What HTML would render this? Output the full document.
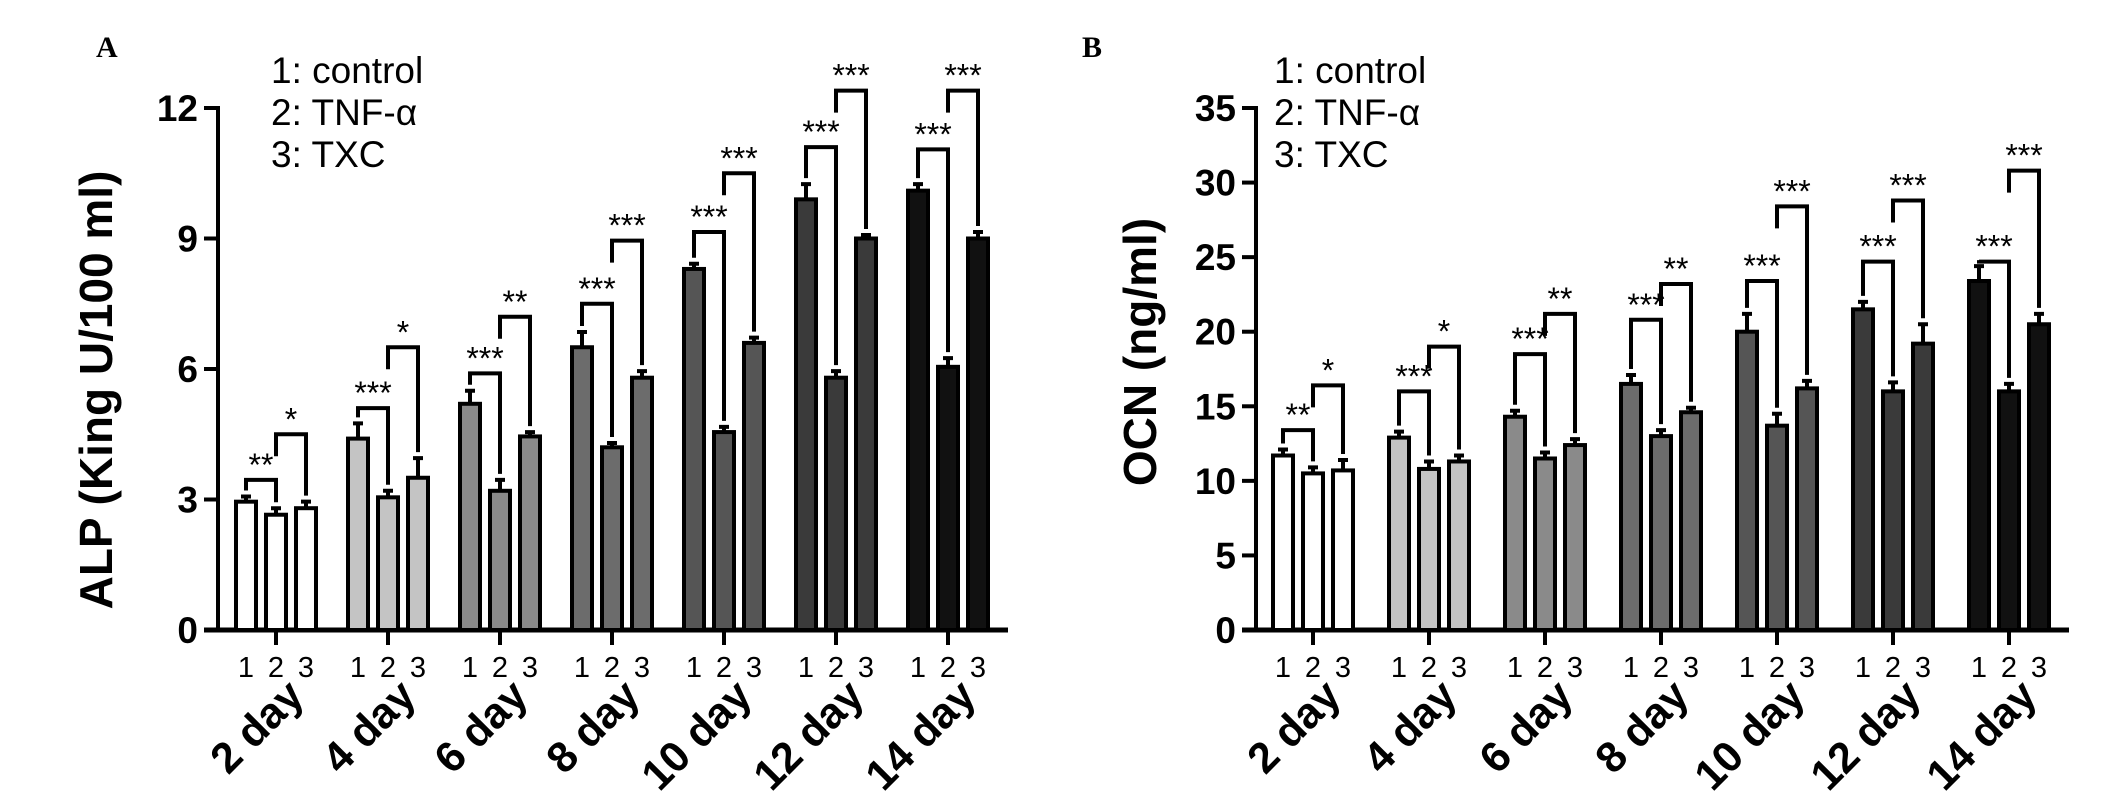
<!DOCTYPE html>
<html><head><meta charset="utf-8"><style>
html,body{margin:0;padding:0;background:#fff;}
svg{display:block;font-family:"Liberation Sans",Arial,sans-serif;}
</style></head><body>
<svg id="chart" width="2126" height="805" viewBox="0 0 2126 805" xmlns="http://www.w3.org/2000/svg"></svg>
<script>
const days = ["2 day","4 day","6 day","8 day","10 day","12 day","14 day"];
const groupFills = ["#ffffff","#c4c4c4","#8a8a8a","#6c6c6c","#555555","#3a3a3a","#111111"];
// Panel A: ALP
const alpControl = [2.95,4.4,5.2,6.5,8.3,9.9,10.1];
const alpControlErr = [0.12,0.35,0.3,0.35,0.12,0.35,0.15];
const alpTNF = [2.65,3.05,3.2,4.2,4.55,5.8,6.05];
const alpTNFErr = [0.15,0.15,0.25,0.1,0.12,0.15,0.2];
const alpTXC = [2.8,3.5,4.45,5.8,6.6,9.0,9.0];
const alpTXCErr = [0.15,0.45,0.1,0.15,0.12,0.08,0.15];
const alpBr12 = [3.45,5.1,5.9,7.5,9.15,11.1,11.05];
const alpBr23 = [4.5,6.5,7.2,8.95,10.5,12.4,12.4];
const alpStars12 = ["**","***","***","***","***","***","***"];
const alpStars23 = ["*","*","**","***","***","***","***"];
const alpTicks = [0,3,6,9,12];
// Panel B: OCN
const ocnControl = [11.7,12.9,14.3,16.5,20.0,21.5,23.4];
const ocnControlErr = [0.4,0.4,0.4,0.6,1.2,0.5,1.0];
const ocnTNF = [10.5,10.8,11.5,13.0,13.7,16.0,16.0];
const ocnTNFErr = [0.4,0.5,0.4,0.4,0.8,0.6,0.5];
const ocnTXC = [10.7,11.3,12.4,14.6,16.2,19.2,20.5];
const ocnTXCErr = [0.7,0.4,0.4,0.3,0.5,1.3,0.7];
const ocnBr12 = [13.4,16.0,18.5,20.8,23.4,24.7,24.7];
const ocnBr23 = [16.4,19.0,21.2,23.2,28.4,28.8,30.8];
const ocnStars12 = ["**","***","***","***","***","***","***"];
const ocnStars23 = ["*","*","**","**","***","***","***"];
const ocnTicks = [0,5,10,15,20,25,30,35];

const NS="http://www.w3.org/2000/svg";
const svg=document.getElementById('chart');
function el(tag,attrs,parent){const e=document.createElementNS(NS,tag);for(const k in attrs)e.setAttribute(k,attrs[k]);(parent||svg).appendChild(e);return e;}

function panel(o){
  const g=el('g',{});
  
  
  const x0=o.axisX, y0=630, yTop=108;
  const y=v=>y0-(v/o.max)*(y0-yTop);
  const gx=i=>o.firstGroup+i*o.spacing;
  const pitch=30, bw=20;
  const lbl=el('text',{x:o.letterX,y:57,'font-family':'Liberation Serif, serif','font-weight':'bold','font-size':30},g);lbl.textContent=o.letter;
  
  
  const legend=["1: control","2: TNF-α","3: TXC"];
  legend.forEach((t,i)=>{const e=el('text',{x:o.legendX,y:83+i*42,'font-size':37},g);e.textContent=t;
    
    });
  const yt=el('text',{x:0,y:0,'font-size':o.titleSize,'font-weight':'bold','text-anchor':'middle',transform:`translate(${o.titleX},${o.titleY}) rotate(-90)`},g);yt.textContent=o.title;
  
  
  const ya=el('line',{x1:x0,y1:yTop-2,x2:x0,y2:y0+2,stroke:'#000','stroke-width':4},g);
  
  
  const xa=el('line',{x1:x0-14,y1:y0,x2:gx(6)+60,y2:y0,stroke:'#000','stroke-width':5},g);
  
  
  o.ticks.forEach(t=>{
    const tk=el('line',{x1:x0-14,y1:y(t),x2:x0,y2:y(t),stroke:'#000','stroke-width':4},g);
    
    
    const tl=el('text',{x:x0-20,y:y(t)+13,'font-size':37,'font-weight':'bold','text-anchor':'end'},g);tl.textContent=t;
    
    
  });
  const series=[[o.c,o.ce],[o.t,o.te],[o.x,o.xe]];
  days.forEach((d,i)=>{
    const cx=gx(i);
    const xt=el('line',{x1:cx,y1:y0,x2:cx,y2:y0+15,stroke:'#000','stroke-width':4},g);
    
    
    const tops=[];
    series.forEach((s,j)=>{
      const bx=cx+(j-1)*pitch, v=s[0][i], e=s[1][i];
      const r=el('rect',{x:bx-bw/2,y:y(v),width:bw,height:y0-y(v),fill:groupFills[i],stroke:'#000','stroke-width':4},g);
      
      
      const eb=el('path',{d:`M${bx},${y(v)} V${y(v+e)} M${bx-5},${y(v+e)} H${bx+5}`,stroke:'#000','stroke-width':4,fill:'none'},g);
      
      
      tops.push(y(v+e)-6);
      const n=el('text',{x:bx,y:y0+47,'font-size':29,'text-anchor':'middle'},g);n.textContent=j+1;
      
      
    });
    const b1=y(o.b12[i]), b2=y(o.b23[i]);
    const x1=cx-pitch,x2=cx,x3=cx+pitch;
    const p1=el('path',{d:`M${x1},${tops[0]} V${b1} H${x2} V${tops[1]}`,stroke:'#000','stroke-width':4,fill:'none'},g);
    
    
    const p2=el('path',{d:`M${x2},${b2+22} V${b2} H${x3} V${tops[2]}`,stroke:'#000','stroke-width':4,fill:'none'},g);
    
    
    const s1=el('text',{x:(x1+x2)/2,y:b1-4,'font-size':32,'text-anchor':'middle'},g);s1.textContent=o.s12[i];
    
    
    const s2=el('text',{x:(x2+x3)/2,y:b2-4,'font-size':32,'text-anchor':'middle'},g);s2.textContent=o.s23[i];
    
    
    const dl=el('text',{x:0,y:0,'font-size':43,'font-weight':'bold','text-anchor':'end',transform:`translate(${cx+30},${698}) rotate(-45)`},g);dl.textContent=d;
    
    
  });
}
panel({name:'panel-a-alp',letter:'A',letterX:96,legendX:271,axisX:218,firstGroup:276,spacing:112,max:12,ticks:alpTicks,title:'ALP (King U/100 ml)',titleX:112,titleY:390,titleSize:46,
  c:alpControl,ce:alpControlErr,t:alpTNF,te:alpTNFErr,x:alpTXC,xe:alpTXCErr,b12:alpBr12,b23:alpBr23,s12:alpStars12,s23:alpStars23});
panel({name:'panel-b-ocn',letter:'B',letterX:1082,legendX:1274,axisX:1256,firstGroup:1313,spacing:116,max:35,ticks:ocnTicks,title:'OCN (ng/ml)',titleX:1156,titleY:352,titleSize:46,
  c:ocnControl,ce:ocnControlErr,t:ocnTNF,te:ocnTNFErr,x:ocnTXC,xe:ocnTXCErr,b12:ocnBr12,b23:ocnBr23,s12:ocnStars12,s23:ocnStars23});
</script>
</body></html>
